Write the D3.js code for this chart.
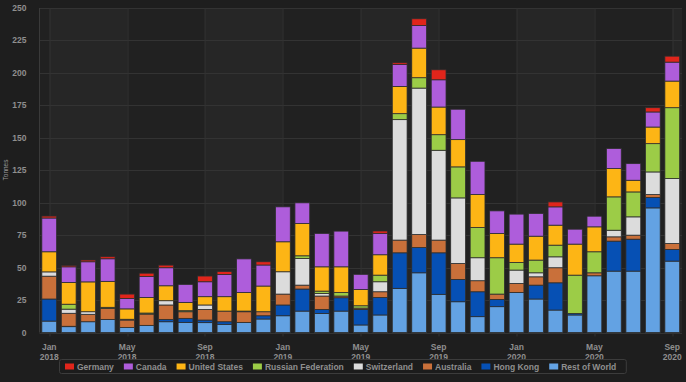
<!DOCTYPE html>
<html>
<head>
<meta charset="utf-8">
<script src="https://cdn.jsdelivr.net/npm/d3@7"></script>
<style>
  body { margin: 0; background: #1e1e1e; }
  text { font-family: "Liberation Sans", Arial, sans-serif; }
</style>
</head>
<body>
<div class="vis-chart"></div>
<script>
const months = ["2018-01","2018-02","2018-03","2018-04","2018-05","2018-06","2018-07","2018-08","2018-09","2018-10","2018-11","2018-12",
  "2019-01","2019-02","2019-03","2019-04","2019-05","2019-06","2019-07","2019-08","2019-09","2019-10","2019-11","2019-12",
  "2020-01","2020-02","2020-03","2020-04","2020-05","2020-06","2020-07","2020-08","2020-09"];

// stacked bottom -> top
const restOfWorld = [8.8,4.5,8.3,10.1,3.8,5.5,8.3,7.8,7.6,6.3,7.8,10.4,12.9,16.5,14.7,16.5,5.8,13.5,34,46,29.4,23.7,12.2,19.9,30.9,25.8,17.3,13.5,43.7,47.3,47.3,96,55];
const hongKong = [17,0.3,0,0,0,0,1.8,3.1,2,2,0,2.5,8.3,17,3.1,10.3,12,13.5,27.4,19.5,32,17.2,19.2,5.6,0,10.7,21,1.2,0,23.1,24.6,8,9];
const australia = [17.6,10,5.7,8.5,5.8,8.7,11.1,5.1,8.2,8.2,8.2,3.1,8.4,3,10.3,1.3,1,4.4,9.8,10,9.8,12.3,8.5,4.1,6.9,6.4,11.6,0,2.3,3.3,3.1,2.3,4.6];
const switzerland = [3.3,3.2,2,0,0.6,0,3.3,0,3.4,0,0,0,17.2,20.5,2,0,0,7.7,92.8,112.8,69.2,50.5,17.7,0,10.3,3.1,8.4,0,0,5.1,14.1,17.4,50];
const russia = [0,3.8,0,0.8,0,0.8,0,0.8,0,0,0.5,0,0,2.1,1.8,2.8,1.8,5.1,4.6,8,12,23.9,23.3,28,5.9,9.8,9,29.5,16.2,25.7,19.2,21.8,54.6];
const unitedStates = [15.5,16.8,23,20,8,12,11.5,6.4,6.4,11.1,14.3,19.8,23.1,24.9,18.7,19.7,12.6,15.7,21,22.8,21.3,21,25.4,18.7,14.1,18.4,15.4,23.9,19.2,21.8,9,12.8,20.5];
const canada = [26,12,15.5,17.4,8,16.2,13.9,13.8,11.5,17.1,25.9,16.2,26.9,15.9,25.7,27.5,11.6,16.5,16.9,17.4,21,23.4,25.6,17.4,23.1,17.5,14.1,11.5,8.2,15.4,12.8,11.6,14.6];
const germany = [1.5,1.1,1.3,1.6,3.4,2.5,2,0,4.4,2.3,0,2.5,0,0,0,0,0,1.8,1.3,5.2,7.7,0,0,0,0,0,3.8,0,0,0,0,3.3,4.6];

const yTicks = [0,25,50,75,100,125,150,175,200,225,250];

const series = [
  { key: "restOfWorld", name: "Rest of World", color: "#63a2e3", values: restOfWorld },
  { key: "hongKong", name: "Hong Kong", color: "#0650b4", values: hongKong },
  { key: "australia", name: "Australia", color: "#c9703a", values: australia },
  { key: "switzerland", name: "Switzerland", color: "#dcdcdc", values: switzerland },
  { key: "russia", name: "Russian Federation", color: "#9ccc47", values: russia },
  { key: "unitedStates", name: "United States", color: "#fdb515", values: unitedStates },
  { key: "canada", name: "Canada", color: "#ae5ddb", values: canada },
  { key: "germany", name: "Germany", color: "#e0251b", values: germany }
];

const W = 686, H = 382;
const margin = { top: 8, right: 4, bottom: 49.5, left: 39.5 };
const width = W - margin.left - margin.right;
const height = H - margin.top - margin.bottom;

const svg = d3.select(".vis-chart").append("svg")
  .attr("width", W).attr("height", H);
svg.append("rect").attr("width", W).attr("height", H).attr("fill", "#1e1e1e");

const g = svg.append("g").attr("transform", "translate(" + margin.left + "," + margin.top + ")");

const table = months.map((m, i) => {
  const row = { month: m };
  series.forEach(s => { row[s.key] = s.values[i]; });
  return row;
});

const x = d3.scaleBand().domain(months).range([0, width]).paddingInner(0.24).paddingOuter(0.12);
const y = d3.scaleLinear().domain([0, 250]).range([height, 0]);
const cx = m => x(m) + x.bandwidth() / 2;

// ticks every 4 months
const tickMonths = months.filter((m, i) => i % 4 === 0);

// alternate bands
const edges = [0].concat(tickMonths.map(cx)).concat([width]);
for (let i = 0; i < edges.length - 1; i++) {
  g.append("rect")
    .attr("x", edges[i]).attr("y", 0)
    .attr("width", edges[i + 1] - edges[i]).attr("height", height)
    .attr("fill", i % 2 === 1 ? "#262626" : "#212121");
}

// horizontal grid
g.append("g").selectAll("line").data(yTicks).join("line")
  .attr("x1", 0).attr("x2", width)
  .attr("y1", d => Math.round(y(d)) + 0.5).attr("y2", d => Math.round(y(d)) + 0.5)
  .attr("stroke", "#333");

// vertical grid
g.append("g").selectAll("line").data(tickMonths).join("line")
  .attr("x1", d => Math.round(cx(d)) + 0.5).attr("x2", d => Math.round(cx(d)) + 0.5)
  .attr("y1", 0).attr("y2", height + 4)
  .attr("stroke", "#333");

g.append("line").attr("x1", 0).attr("x2", 0).attr("y1", 0).attr("y2", height).attr("stroke", "#3a3a3a");

// stacked bars
const stack = d3.stack().keys(series.map(s => s.key));
const layers = stack(table);

g.append("g").selectAll("g").data(layers).join("g")
  .attr("fill", (d, i) => series[i].color)
  .selectAll("rect").data(d => d.filter(p => p[1] - p[0] > 0)).join("rect")
  .attr("x", d => x(d.data.month))
  .attr("y", d => y(d[1]))
  .attr("width", x.bandwidth())
  .attr("height", d => y(d[0]) - y(d[1]))
  .attr("stroke", "#2e2e2e")
  .attr("stroke-width", 0.8);

// y axis labels
g.append("g").selectAll("text").data(yTicks).join("text")
  .attr("x", -13).attr("y", d => y(d) + 3)
  .attr("text-anchor", "end")
  .attr("font-size", 8.5).attr("font-weight", "bold")
  .attr("fill", "#8f8f8f")
  .text(d => d);

svg.append("text")
  .attr("transform", "translate(8,170) rotate(-90)")
  .attr("text-anchor", "middle")
  .attr("font-size", 6.5).attr("fill", "#9a9a9a")
  .text("Tonnes");

// x axis labels
const parse = d3.timeParse("%Y-%m");
const xl = g.append("g").selectAll("text").data(tickMonths).join("text")
  .attr("text-anchor", "middle")
  .attr("font-size", 8.5).attr("font-weight", "bold")
  .attr("fill", "#8f8f8f");
xl.append("tspan").attr("x", d => cx(d)).attr("y", height + 17).text(d => d3.timeFormat("%b")(parse(d)));
xl.append("tspan").attr("x", d => cx(d)).attr("y", height + 27).text(d => d3.timeFormat("%Y")(parse(d)));

// legend (top series first)
const legend = svg.append("g");
const legendBg = legend.append("rect")
  .attr("x", 59.5).attr("y", 359.5).attr("height", 14).attr("rx", 2)
  .attr("fill", "#1c1c1c").attr("stroke", "#3c3c3c");
let lx = 65;
series.slice().reverse().forEach(s => {
  legend.append("rect").attr("x", lx).attr("y", 363.5).attr("width", 9).attr("height", 6)
    .attr("fill", s.color);
  const t = legend.append("text").attr("x", lx + 12).attr("y", 369.5)
    .attr("font-size", 8.5).attr("font-weight", "bold").attr("fill", "#8f8f8f").text(s.name);
  lx += 12 + t.node().getComputedTextLength() + 10;
});
legendBg.attr("width", lx - 59.5);
</script>
</body>
</html>
